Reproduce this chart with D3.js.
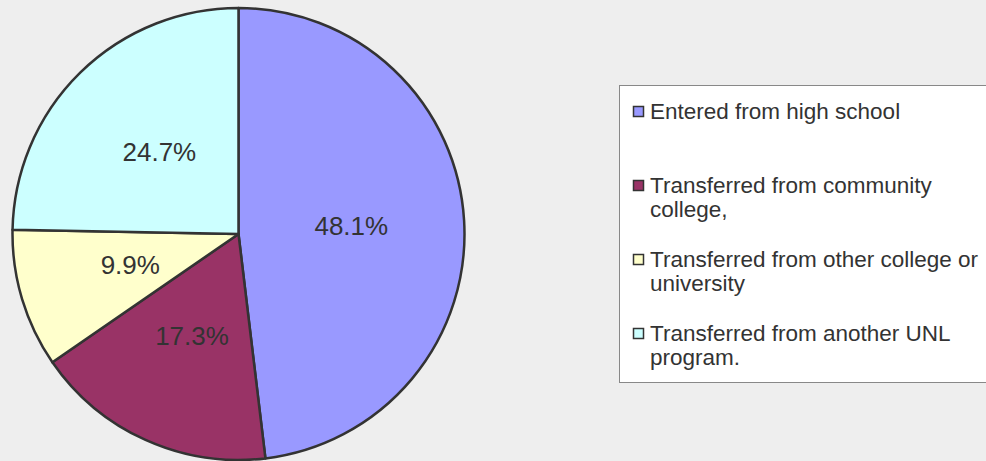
<!DOCTYPE html>
<html>
<head>
<meta charset="utf-8">
<script src="https://cdn.jsdelivr.net/npm/d3@7"></script>
<style>
    body { margin: 0; background: #eeeeee; }
    svg { display: block; font-family: "Liberation Sans", Arial, sans-serif; }
</style>
</head>
<body>
<div id="chart"></div>
<script>
// Data
var categories = [
    "Entered from high school",
    "Transferred from community college,",
    "Transferred from other college or university",
    "Transferred from another UNL program."
];
var shares = [48.1, 17.3, 9.9, 24.7];
var colors = ["#9999ff", "#993366", "#ffffcc", "#ccffff"];

var width = 986, height = 461;

var svg = d3.select("#chart")
    .append("svg")
    .attr("width", width)
    .attr("height", height);

svg.append("rect")
    .attr("width", width)
    .attr("height", height)
    .attr("fill", "#eeeeee");

// Pie
var radius = 226;
var pieG = svg.append("g")
    .attr("transform", "translate(238.5,234)");

var pie = d3.pie().sort(null).value(function(d) { return d; });
var arcs = pie(shares);

var arc = d3.arc().innerRadius(0).outerRadius(radius);
var labelArc = d3.arc().innerRadius(radius / 2).outerRadius(radius / 2);

pieG.selectAll("path")
    .data(arcs)
    .join("path")
    .attr("d", arc)
    .attr("fill", function(d, i) { return colors[i]; })
    .attr("stroke", "#333333")
    .attr("stroke-width", 2.5)
    .attr("stroke-linejoin", "round");

pieG.selectAll("text")
    .data(arcs)
    .join("text")
    .attr("transform", function(d) { return "translate(" + labelArc.centroid(d) + ")"; })
    .attr("text-anchor", "middle")
    .attr("dy", "0.3em")
    .attr("font-size", 26)
    .attr("fill", "#333333")
    .text(function(d) { return d.value.toFixed(1) + "%"; });

// Legend
var legend = svg.append("g");
legend.append("rect")
    .attr("x", 619.5)
    .attr("y", 85.5)
    .attr("width", 380)
    .attr("height", 297)
    .attr("fill", "#ffffff")
    .attr("stroke", "#888888");

var itemY = d3.scaleLinear().domain([0, 1]).range([119, 193]);

var items = legend.selectAll("g.item")
    .data(categories)
    .join("g")
    .attr("class", "item")
    .attr("transform", function(d, i) { return "translate(0," + itemY(i) + ")"; });

items.append("rect")
    .attr("x", 633.5)
    .attr("y", -12.5)
    .attr("width", 10)
    .attr("height", 10)
    .attr("fill", function(d, i) { return colors[i]; })
    .attr("stroke", "#333333")
    .attr("stroke-width", 1.5);

items.each(function(label) {
    var text = d3.select(this).append("text")
        .attr("x", 650)
        .attr("font-size", 22.5)
        .attr("fill", "#333333");
    // wrap the words into lines of at most 340px
    var words = label.split(" ");
    var line = [];
    var lineNo = 0;
    var tspan = text.append("tspan").attr("x", 650).attr("y", 0);
    words.forEach(function(w) {
        line.push(w);
        tspan.text(line.join(" "));
        if (tspan.node().getComputedTextLength() > 340 && line.length > 1) {
            line.pop();
            tspan.text(line.join(" "));
            line = [w];
            lineNo++;
            tspan = text.append("tspan").attr("x", 650).attr("y", lineNo * 24).text(w);
        }
    });
});
</script>
</body>
</html>
